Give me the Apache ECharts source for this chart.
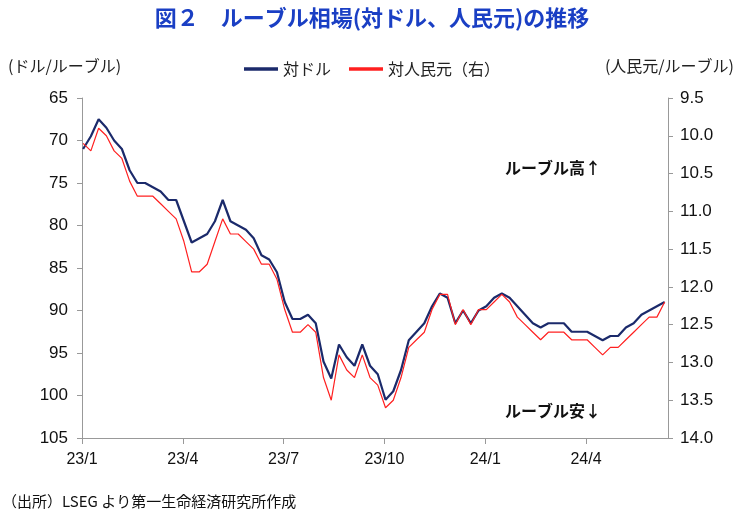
<![CDATA[<!DOCTYPE html><html><head><meta charset="utf-8">
<script src="https://cdn.jsdelivr.net/npm/echarts@6/dist/echarts.min.js"></script>
<style>body{margin:0}#c{width:744px;height:523px}</style></head><body><div id="c"></div><script>
const startDay=1; // 2023-01-02 as days since 2023-01-01
const usd=[71,69.5,67.5,68.5,70,71,73.5,75,75,75.5,76,77,77,79.5,82,81.5,81,79.5,77,79.5,80,80.5,81.5,83.5,84,85.5,89,91,91,90.5,91.5,96,98,94,95.5,96.5,94,96.5,97.5,100.5,99.5,97,93.5,92.5,91.5,89.5,88,88.5,91.5,90,91.5,90,89.5,88.5,88,88.5,89.5,90.5,91.5,92,91.5,91.5,91.5,92.5,92.5,92.5,93,93.5,93,93,92,91.5,90.5,90,89.5,89];
const cny=[10.1,10.2,9.9,10.0,10.2,10.3,10.6,10.8,10.8,10.8,10.9,11.0,11.1,11.4,11.8,11.8,11.7,11.4,11.1,11.3,11.3,11.4,11.5,11.7,11.7,11.9,12.3,12.6,12.6,12.5,12.6,13.2,13.5,12.9,13.1,13.2,12.9,13.2,13.3,13.6,13.5,13.2,12.8,12.7,12.6,12.3,12.1,12.1,12.5,12.3,12.5,12.3,12.3,12.2,12.1,12.2,12.4,12.5,12.6,12.7,12.6,12.6,12.6,12.7,12.7,12.7,12.8,12.9,12.8,12.8,12.7,12.6,12.5,12.4,12.4,12.2];
const tickLabels=['23/1','23/4','23/7','23/10','24/1','24/4'];
const days=usd.map((_,i)=>startDay+i*7);
const F='"Noto Sans CJK JP"';
const ch=echarts.init(document.getElementById('c'));
ch.setOption({
 animation:false,
 title:{text:'図２　ルーブル相場(対ドル、人民元)の推移',left:'center',top:2,textStyle:{color:'#1a3fc4',fontSize:22,fontWeight:'bold',fontFamily:F}},
 legend:{top:56,left:'center',itemWidth:34,itemGap:18,textStyle:{fontSize:16,fontFamily:F,color:'#222'},
   data:[{name:'対ドル',icon:'path://M0,0H10V1H0Z'},{name:'対人民元（右）',icon:'path://M0,0H10V1H0Z'}]},
 graphic:[
  {type:'text',left:8,top:58,style:{text:'(ドル/ルーブル)',fontSize:16,fontFamily:F,fill:'#222'}},
  {type:'text',right:10,top:58,style:{text:'(人民元/ルーブル)',fontSize:16,fontFamily:F,fill:'#222'}},
  {type:'text',left:505,top:160,style:{text:'ルーブル高↑',fontSize:16,fontWeight:'bold',fontFamily:F,fill:'#111'}},
  {type:'text',left:505,top:403,style:{text:'ルーブル安↓',fontSize:16,fontWeight:'bold',fontFamily:F,fill:'#111'}},
  {type:'text',left:2,top:494,style:{text:'（出所）LSEG より第一生命経済研究所作成',fontSize:15,fontFamily:F,fill:'#111'}}
 ],
 grid:{left:82,right:76,top:98,bottom:85},
 xAxis:{type:'value',min:0,max:529,interval:91,
  axisLine:{lineStyle:{color:'#999'}},axisTick:{length:6,lineStyle:{color:'#999'}},
  axisLabel:{formatter:v=>(v%91===0&&tickLabels[v/91])?tickLabels[v/91]:'',showMaxLabel:false,fontSize:16,color:'#111',margin:14,fontFamily:'Liberation Sans'},
  splitLine:{show:false}},
 yAxis:[
  {type:'value',inverse:true,min:65,max:105,interval:5,axisLine:{show:true,lineStyle:{color:'#999'}},splitLine:{show:false},
   axisLabel:{fontSize:17,color:'#111',fontFamily:'Liberation Sans',margin:14}},
  {type:'value',inverse:true,min:9.5,max:14,interval:0.5,position:'right',axisLine:{show:true,lineStyle:{color:'#999'}},splitLine:{show:false},
   axisLabel:{fontSize:17,color:'#111',fontFamily:'Liberation Sans',margin:12,formatter:v=>v.toFixed(1)}}
 ],
 series:[
  {name:'対ドル',type:'line',showSymbol:false,data:days.map((d,i)=>[d,usd[i]]),lineStyle:{color:'#1b2a6b',width:2.2},itemStyle:{color:'#1b2a6b'},z:3},
  {name:'対人民元（右）',type:'line',yAxisIndex:1,showSymbol:false,data:days.map((d,i)=>[d,cny[i]]),lineStyle:{color:'#ff2020',width:1.2},itemStyle:{color:'#ff2020'},z:4}
 ]
});
</script></body></html>]]>
